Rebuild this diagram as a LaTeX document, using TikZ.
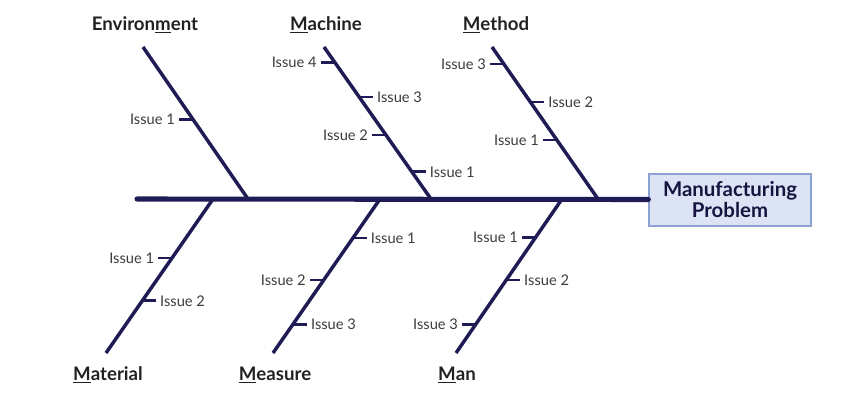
\documentclass[tikz,border=0pt]{standalone}
\usepackage{fontspec}
\setmainfont{Lato}
\usetikzlibrary{calc,positioning}
\definecolor{bone}{HTML}{1F1B55}
\definecolor{boxfill}{HTML}{DCE3F4}
\definecolor{boxline}{HTML}{8CA2D4}
\definecolor{issuegray}{HTML}{3C3C3C}
\definecolor{causetext}{HTML}{222222}

\begin{document}
\begin{tikzpicture}[x=0.75pt,y=-0.75pt,
    bone/.style={draw=bone,line width=2.6pt},
    spine/.style={draw=bone,line width=3.8pt,line cap=round},
    tick/.style={draw=bone,line width=2.2pt},
    issue/.style={font=\fontsize{11}{12}\selectfont,text=issuegray,inner sep=2.8pt,text height=1.5ex,text depth=0pt},
    cause/.style={font=\bfseries\fontsize{14}{16}\selectfont,text=causetext,anchor=base},
    probbox/.style={draw=boxline,fill=boxfill,line width=1.5pt,minimum width=121pt,minimum height=39pt,align=center,font=\bfseries\fontsize{15.3}{15.5}\selectfont,text=bone!75!black}]
  \useasboundingbox (0,0) rectangle (864,400);

  % effect box and spine
  \node[probbox] (prob) at (730,199.5) {Manufacturing\\Problem};
  \coordinate (tail) at (137,199);
  \draw[spine] (tail) -- (prob.west);

  % bones: top end (T) and bottom end (B)
  \coordinate (envT) at (143,47);  \coordinate (envB) at (248,199);
  \coordinate (mcT) at (324,47);   \coordinate (mcB) at (431,199);
  \coordinate (mtT) at (492,47);   \coordinate (mtB) at (598,199);
  \coordinate (maT) at (213,199);  \coordinate (maB) at (106,353);
  \coordinate (meT) at (380,199);  \coordinate (meB) at (273,353);
  \coordinate (mnT) at (562,199);  \coordinate (mnB) at (456,353);
  \foreach \br in {env,mc,mt,ma,me,mn}
    \draw[bone] (\br T) -- (\br B);

  % cause labels
  \node[cause] (env) at (145,30) {Environ\underline{m}ent};
  \node[cause] (mc) at (326,30) {\underline{M}achine};
  \node[cause] (mt) at (496,30) {\underline{M}ethod};
  \node[cause] (ma) at (108,380) {\underline{M}aterial};
  \node[cause] (me) at (275,380) {\underline{M}easure};
  \node[cause] (mn) at (457,380) {\underline{M}an};

  % issue ticks
  \foreach \br/\t/\dx/\an/\n in {env/0.474/-14/east/1,
      mc/0.099/-14/east/4, mc/0.329/14/west/3, mc/0.579/-14/east/2, mc/0.822/14/west/1,
      mt/0.112/-14/east/3, mt/0.362/14/west/2, mt/0.612/-14/east/1,
      ma/0.383/-14/east/1, ma/0.662/14/west/2,
      me/0.253/14/west/1, me/0.526/-14/east/2, me/0.812/14/west/3,
      mn/0.247/-14/east/1, mn/0.526/14/west/2, mn/0.812/-14/east/3}{
    \coordinate (\br\n) at ($(\br T)!\t!(\br B)$);
    \node[issue,anchor=\an] (\br\n lab) at ($(\br\n)+(\dx,0)$) {Issue \n};
    \draw[tick] (\br\n) -- (\br\n lab);
  }
\end{tikzpicture}
\end{document}
